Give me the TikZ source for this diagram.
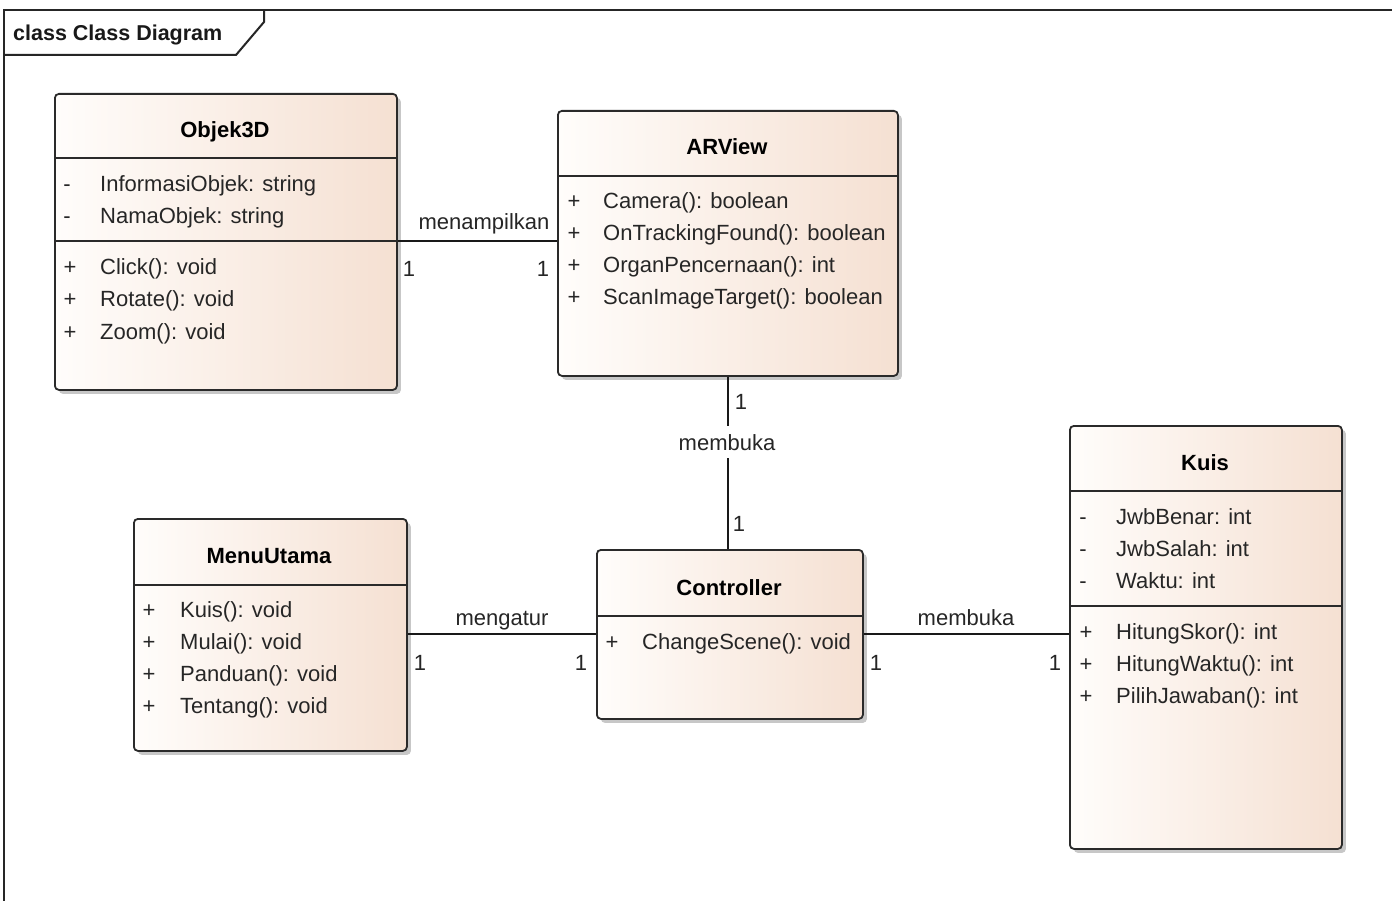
\documentclass[tikz,border=0pt]{standalone}
\usepackage{fontspec}
\setmainfont{Liberation Sans}
\usetikzlibrary{shadows}
\definecolor{fillL}{HTML}{FFFDFB}
\definecolor{fillR}{HTML}{F5E0D2}
\definecolor{edge}{HTML}{2A2A2A}
\definecolor{txt}{HTML}{262626}
\tikzset{
 classbox/.style={draw=edge, line width=1.8pt, rounded corners=4pt, left color=fillL, right color=fillR, anchor=north west, inner sep=0pt,
   drop shadow={shadow xshift=4pt, shadow yshift=-4pt, opacity=0.22, fill=black}},
 cname/.style={font=\fontsize{22}{26}\selectfont\bfseries, text=black, inner sep=0pt, text height=18pt, text depth=2pt},
 member/.style={font=\fontsize{22}{26}\selectfont, text=txt, anchor=west, inner sep=0pt, text height=18pt, text depth=2pt},
 vis/.style={font=\fontsize{22}{26}\selectfont, text=txt, inner sep=0pt, text height=18pt, text depth=2pt},
 divider/.style={draw=edge, line width=1.8pt},
 conn/.style={draw=black!90, line width=1.6pt},
 lbl/.style={font=\fontsize{22}{26}\selectfont, text=txt, inner sep=0pt, text height=18pt, text depth=2pt},
 framel/.style={draw=black!85, line width=2pt},
}
\begin{document}
\begin{tikzpicture}[x=1pt, y=-1pt]
\useasboundingbox (0,0) rectangle (1392,901);
\fill[white] (0,0) rectangle (1392,901);
% frame
\draw[framel] (4,901) -- (4,10) -- (1392,10);
\draw[framel] (4,55) -- (236,55) -- (264,22) -- (264,10);
\node[font=\fontsize{21.5}{25}\selectfont\bfseries, text=black!90, anchor=west, inner sep=0pt, text height=18pt, text depth=2pt] (frametitle) at (13,33) {class Class Diagram};

% Objek3D
\node[classbox, minimum width=342pt, minimum height=296pt] (obj) at (54,93) {};
\draw[divider] (obj.west |- 0,158) -- (obj.east |- 0,158);
\draw[divider] (obj.west |- 0,241) -- (obj.east |- 0,241);
\node[cname] (objN) at (225,130) {Objek3D};
\node[vis] (objA1s) at (67,184) {-};
\node[member] (objA1) at (100,184) {InformasiObjek: string};
\node[vis] (objA2s) at (67,216) {-};
\node[member] (objA2) at (100,216) {NamaObjek: string};
\node[vis] (objO1s) at (70,267) {+};
\node[member] (objO1) at (100,267) {Click(): void};
\node[vis] (objO2s) at (70,299) {+};
\node[member] (objO2) at (100,299) {Rotate(): void};
\node[vis] (objO3s) at (70,331) {+};
\node[member] (objO3) at (100,331) {Zoom(): void};

% ARView
\node[classbox, minimum width=340pt, minimum height=265pt] (ar) at (557,110) {};
\draw[divider] (ar.west |- 0,176) -- (ar.east |- 0,176);
\node[cname] (arN) at (727,147) {ARView};
\node[vis] (arO1s) at (574,201) {+};
\node[member] (arO1) at (603,201) {Camera(): boolean};
\node[vis] (arO2s) at (574,233) {+};
\node[member] (arO2) at (603,233) {OnTrackingFound(): boolean};
\node[vis] (arO3s) at (574,265) {+};
\node[member] (arO3) at (603,265) {OrganPencernaan(): int};
\node[vis] (arO4s) at (574,297) {+};
\node[member] (arO4) at (603,297) {ScanImageTarget(): boolean};

% MenuUtama
\node[classbox, minimum width=273pt, minimum height=232pt] (menu) at (133,518) {};
\draw[divider] (menu.west |- 0,585) -- (menu.east |- 0,585);
\node[cname] (menuN) at (269,555) {MenuUtama};
\node[vis] (menuO1s) at (149,609) {+};
\node[member] (menuO1) at (180,609) {Kuis(): void};
\node[vis] (menuO2s) at (149,641) {+};
\node[member] (menuO2) at (180,641) {Mulai(): void};
\node[vis] (menuO3s) at (149,673) {+};
\node[member] (menuO3) at (180,673) {Panduan(): void};
\node[vis] (menuO4s) at (149,705) {+};
\node[member] (menuO4) at (180,705) {Tentang(): void};

% Controller
\node[classbox, minimum width=266pt, minimum height=169pt] (ctrl) at (596,549) {};
\draw[divider] (ctrl.west |- 0,616) -- (ctrl.east |- 0,616);
\node[cname] (ctrlN) at (729,587) {Controller};
\node[vis] (ctrlO1s) at (612,641) {+};
\node[member] (ctrlO1) at (642,641) {ChangeScene(): void};

% Kuis
\node[classbox, minimum width=272pt, minimum height=423pt] (kuis) at (1069,425) {};
\draw[divider] (kuis.west |- 0,491) -- (kuis.east |- 0,491);
\draw[divider] (kuis.west |- 0,606) -- (kuis.east |- 0,606);
\node[cname] (kuisN) at (1205,462) {Kuis};
\node[vis] (kuisA1s) at (1083,516) {-};
\node[member] (kuisA1) at (1116,516) {JwbBenar: int};
\node[vis] (kuisA2s) at (1083,548) {-};
\node[member] (kuisA2) at (1116,548) {JwbSalah: int};
\node[vis] (kuisA3s) at (1083,580) {-};
\node[member] (kuisA3) at (1116,580) {Waktu: int};
\node[vis] (kuisO1s) at (1086,631) {+};
\node[member] (kuisO1) at (1116,631) {HitungSkor(): int};
\node[vis] (kuisO2s) at (1086,663) {+};
\node[member] (kuisO2) at (1116,663) {HitungWaktu(): int};
\node[vis] (kuisO3s) at (1086,695) {+};
\node[member] (kuisO3) at (1116,695) {PilihJawaban(): int};

% connectors
\draw[conn] (obj.east |- 0,241) -- (ar.west |- 0,241);
\node[lbl] (l1) at (484,222) {menampilkan};
\node[lbl] (m1a) at (409,269) {1};
\node[lbl] (m1b) at (543,269) {1};

\draw[conn] (ar.south -| 728,0) -- (ctrl.north -| 728,0);
\node[lbl, fill=white, inner ysep=6pt] (l2) at (727,442) {membuka};
\node[lbl] (m2a) at (741,401) {1};
\node[lbl] (m2b) at (739,523) {1};

\draw[conn] (menu.east |- 0,634) -- (ctrl.west |- 0,634);
\node[lbl] (l3) at (502,617) {mengatur};
\node[lbl] (m3a) at (420,662) {1};
\node[lbl] (m3b) at (581,662) {1};

\draw[conn] (ctrl.east |- 0,634) -- (kuis.west |- 0,634);
\node[lbl] (l4) at (966,617) {membuka};
\node[lbl] (m4a) at (876,662) {1};
\node[lbl] (m4b) at (1055,662) {1};
\end{tikzpicture}
\end{document}
